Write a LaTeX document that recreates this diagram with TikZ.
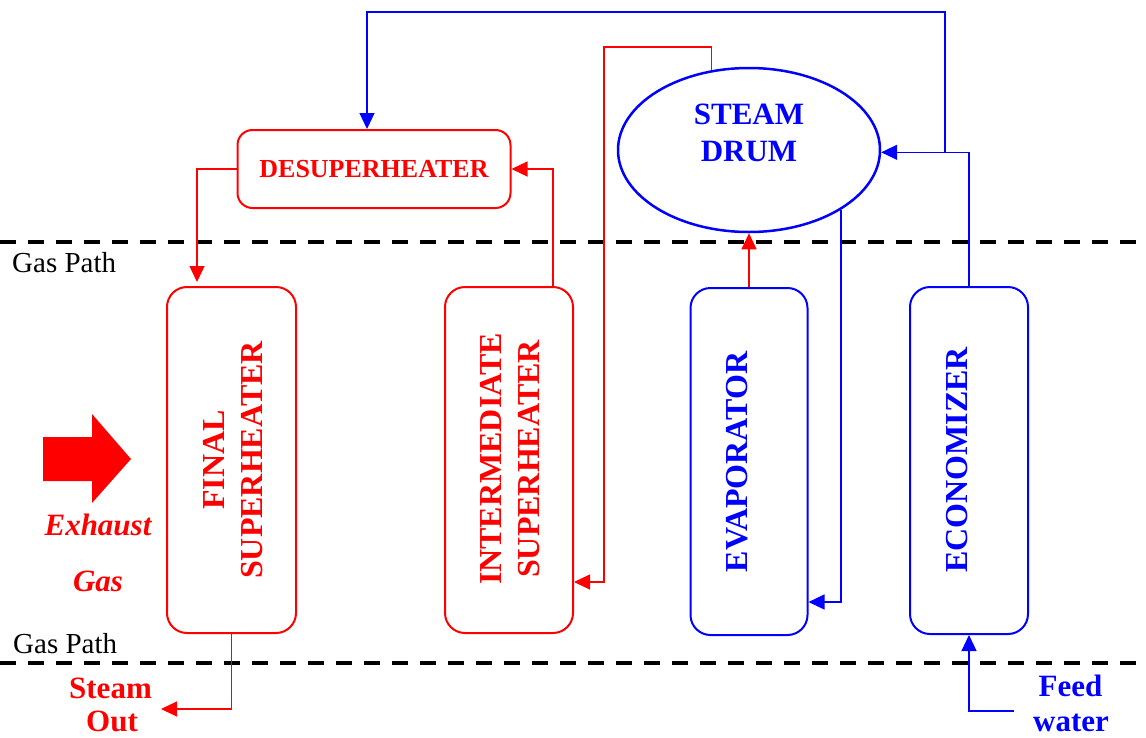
\documentclass[tikz,border=0pt]{standalone}
\usepackage{fontspec}
\setmainfont{Liberation Serif}
\usetikzlibrary{arrows.meta,shapes.geometric,calc}
\begin{document}
\begin{tikzpicture}[x=1pt,y=-1pt,
  box/.style={rectangle, rounded corners=20pt, line width=2pt, inner sep=0pt},
  redbox/.style={box, draw=red},
  bluebox/.style={box, draw=blue},
  vtext/.style={rotate=90, align=center, inner sep=0pt, font=\bfseries\fontsize{32}{37.5}\selectfont},
  conn/.style={line width=1.2pt, -{Triangle[length=16pt,width=15pt]}},
  gasline/.style={line width=4pt, dash pattern=on 16pt off 12pt},
  lbl/.style={anchor=base, inner sep=0pt, font=\bfseries\fontsize{31}{37}\selectfont},
  gp/.style={anchor=base west, inner sep=0pt, font=\fontsize{29}{34}\selectfont}
]
\useasboundingbox (0,0) rectangle (1146,737);

% gas path lines
\coordinate (gl1) at (0,242);
\coordinate (gr1) at (1146,242);
\coordinate (gl2) at (0,663);
\coordinate (gr2) at (1146,663);
\draw[gasline] (gl1) -- (gr1);
\draw[gasline] (gl2) -- (gr2);
\node[gp] (gp1) at (12,272) {Gas Path};
\node[gp] (gp2) at (13,653) {Gas Path};

% boxes
\node[redbox, minimum width=129pt, minimum height=346pt] (fs) at (231.5,460) {};
\node[redbox, minimum width=128pt, minimum height=346pt] (is) at (509,460) {};
\node[bluebox, minimum width=117pt, minimum height=347pt] (ev) at (749,461.5) {};
\node[bluebox, minimum width=118pt, minimum height=347pt] (ec) at (969,460.5) {};
\node[redbox, rounded corners=15pt, minimum width=273pt, minimum height=78pt,
      text=red, font=\bfseries\fontsize{26}{30}\selectfont] (de) at (374,169) {DESUPERHEATER};
\node[ellipse, draw=blue, line width=2.5pt, minimum width=262pt, minimum height=164pt, inner sep=0pt] (drum) at (749,150) {};

% box texts
\node[vtext, text=red] (fst) at (233,460) {FINAL\\SUPERHEATER};
\node[vtext, text=red] (ist) at (510,459) {INTERMEDIATE\\SUPERHEATER};
\node[vtext, text=blue] (evt) at (737,462) {EVAPORATOR};
\node[vtext, text=blue] (ect) at (957,460) {ECONOMIZER};
\node[align=center, inner sep=0pt, text=blue, font=\bfseries\fontsize{31}{37}\selectfont] (drumt) at (749,133) {STEAM\\DRUM};

% exhaust gas arrow
\fill[red] (43,437) -- (92,437) -- (92,414) -- (131,459) -- (92,503) -- (92,481) -- (43,481) -- cycle;
\node[lbl, text=red, font=\bfseries\itshape\fontsize{31}{37}\selectfont] (exh) at (98,535) {Exhaust};
\node[lbl, text=red, font=\bfseries\itshape\fontsize{31}{37}\selectfont] (gas) at (98,591) {Gas};

% steam out / feed water labels
\node[lbl, text=red] (so1) at (110.5,698) {Steam};
\node[lbl, text=red] (so2) at (112,731) {Out};
\node[lbl, text=blue] (fw1) at (1070.5,696) {Feed};
\node[lbl, text=blue] (fw2) at (1071,731) {water};

% coordinates
\coordinate (sout) at (161,709);
\coordinate (fwin) at (1014,711);
\coordinate (jn) at (945,152);
\coordinate (tp) at (945,12);
\coordinate (r1) at (604,47);

% red connectors
\draw[red, conn] (de.west) -| ([xshift=-34.5pt,yshift=4pt]fs.north);
\draw[red, conn] ([xshift=44pt]is.north) |- (de.east);
\draw[red, conn] (drum.115) |- (r1) |- ([yshift=-122pt]is.east);
\draw[red, conn] (ev.north) -- (drum.south);
\draw[red, conn] (fs.south) |- (sout);

% blue connectors
\draw[blue, conn] (ec.north) |- (drum.-1);
\draw[blue, conn] (jn) -- (tp) -| ([xshift=-7pt]de.north);
\draw[blue, conn] (drum.-33) |- ([yshift=-140.5pt]ev.east);
\draw[blue, conn] (fwin) -| (ec.south);
\end{tikzpicture}
\end{document}
